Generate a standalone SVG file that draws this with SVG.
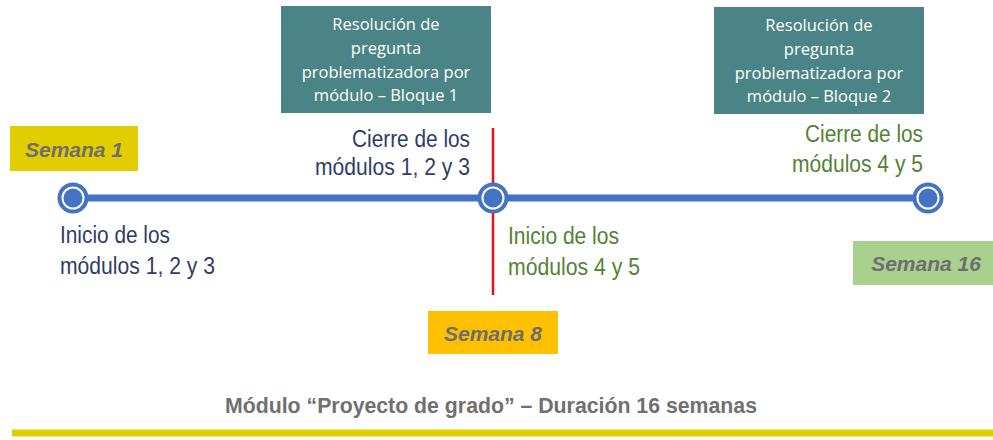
<svg xmlns="http://www.w3.org/2000/svg" width="993" height="440" viewBox="0 0 993 440">
<style>
.lbl{font-family:"Liberation Sans",Arial,sans-serif;font-size:23.5px}
.navy{fill:#2F3D66}
.green{fill:#548235}
.wk{font-family:"Liberation Sans",Arial,sans-serif;font-size:21px;font-weight:bold;font-style:italic;fill:#6E6E6E;text-anchor:middle}
.box{fill:#4B8487}
.boxt{font-family:"Open Sans","Noto Sans",sans-serif;font-size:16.5px;fill:#FFFFFF;text-anchor:middle}
.dot-o{fill:#4472C4}
.dot-i{fill:#4472C4;stroke:#FFFFFF;stroke-width:2}
</style>
<rect width="993" height="440" fill="#FFFFFF"/>
<g id="connectors">
<line x1="73" y1="198" x2="928" y2="198" stroke="#4472C4" stroke-width="7"/>
<line x1="493" y1="128" x2="493" y2="295" stroke="#E8101A" stroke-width="2.5"/>
<line x1="12" y1="433" x2="993" y2="433" stroke="#E2CD00" stroke-width="7"/>
</g>
<g id="box1">
<rect class="box" x="281" y="6" width="210" height="107"/>
<text class="boxt" x="386" y="30">Resolución de</text>
<text class="boxt" x="386" y="54">pregunta</text>
<text class="boxt" x="386" y="78">problematizadora por</text>
<text class="boxt" x="386" y="101">módulo – Bloque 1</text>
</g>
<g id="box2">
<rect class="box" x="714" y="7" width="210" height="107"/>
<text class="boxt" x="819" y="31">Resolución de</text>
<text class="boxt" x="819" y="55">pregunta</text>
<text class="boxt" x="819" y="79">problematizadora por</text>
<text class="boxt" x="819" y="102">módulo – Bloque 2</text>
</g>
<g id="semana1">
<rect x="10" y="126" width="128" height="45" fill="#E2CD00"/>
<text class="wk" x="74" y="157">Semana 1</text>
</g>
<g id="semana8">
<rect x="428" y="311" width="130" height="43" fill="#FFC000"/>
<text class="wk" x="493" y="341">Semana 8</text>
</g>
<g id="semana16">
<rect x="853" y="241" width="140" height="44" fill="#A9D18E"/>
<text class="wk" x="926" y="271">Semana 16</text>
</g>
<g id="node1">
<circle class="dot-o" cx="73" cy="198" r="15.5"/>
<circle class="dot-i" cx="73" cy="198" r="10.5"/>
<text class="lbl navy" x="60" y="243" textLength="110" lengthAdjust="spacingAndGlyphs">Inicio de los</text>
<text class="lbl navy" x="60" y="274" textLength="155" lengthAdjust="spacingAndGlyphs">módulos 1, 2 y 3</text>
</g>
<g id="node2">
<circle class="dot-o" cx="493" cy="198" r="15.5"/>
<circle class="dot-i" cx="493" cy="198" r="10.5"/>
<text class="lbl navy" x="352" y="147" textLength="118" lengthAdjust="spacingAndGlyphs">Cierre de los</text>
<text class="lbl navy" x="315" y="175" textLength="155" lengthAdjust="spacingAndGlyphs">módulos 1, 2 y 3</text>
<text class="lbl green" x="508" y="244" textLength="111" lengthAdjust="spacingAndGlyphs">Inicio de los</text>
<text class="lbl green" x="508" y="275" textLength="132" lengthAdjust="spacingAndGlyphs">módulos 4 y 5</text>
</g>
<g id="node3">
<circle class="dot-o" cx="928" cy="198" r="15.5"/>
<circle class="dot-i" cx="928" cy="198" r="10.5"/>
<text class="lbl green" x="805" y="142" textLength="118" lengthAdjust="spacingAndGlyphs">Cierre de los</text>
<text class="lbl green" x="792" y="172" textLength="131" lengthAdjust="spacingAndGlyphs">módulos 4 y 5</text>
</g>
<g id="title">
<text x="225" y="413" textLength="532" lengthAdjust="spacingAndGlyphs" font-family="Liberation Sans, Arial, sans-serif" font-size="22" font-weight="bold" fill="#707070">Módulo “Proyecto de grado” – Duración 16 semanas</text>
</g>
</svg>
